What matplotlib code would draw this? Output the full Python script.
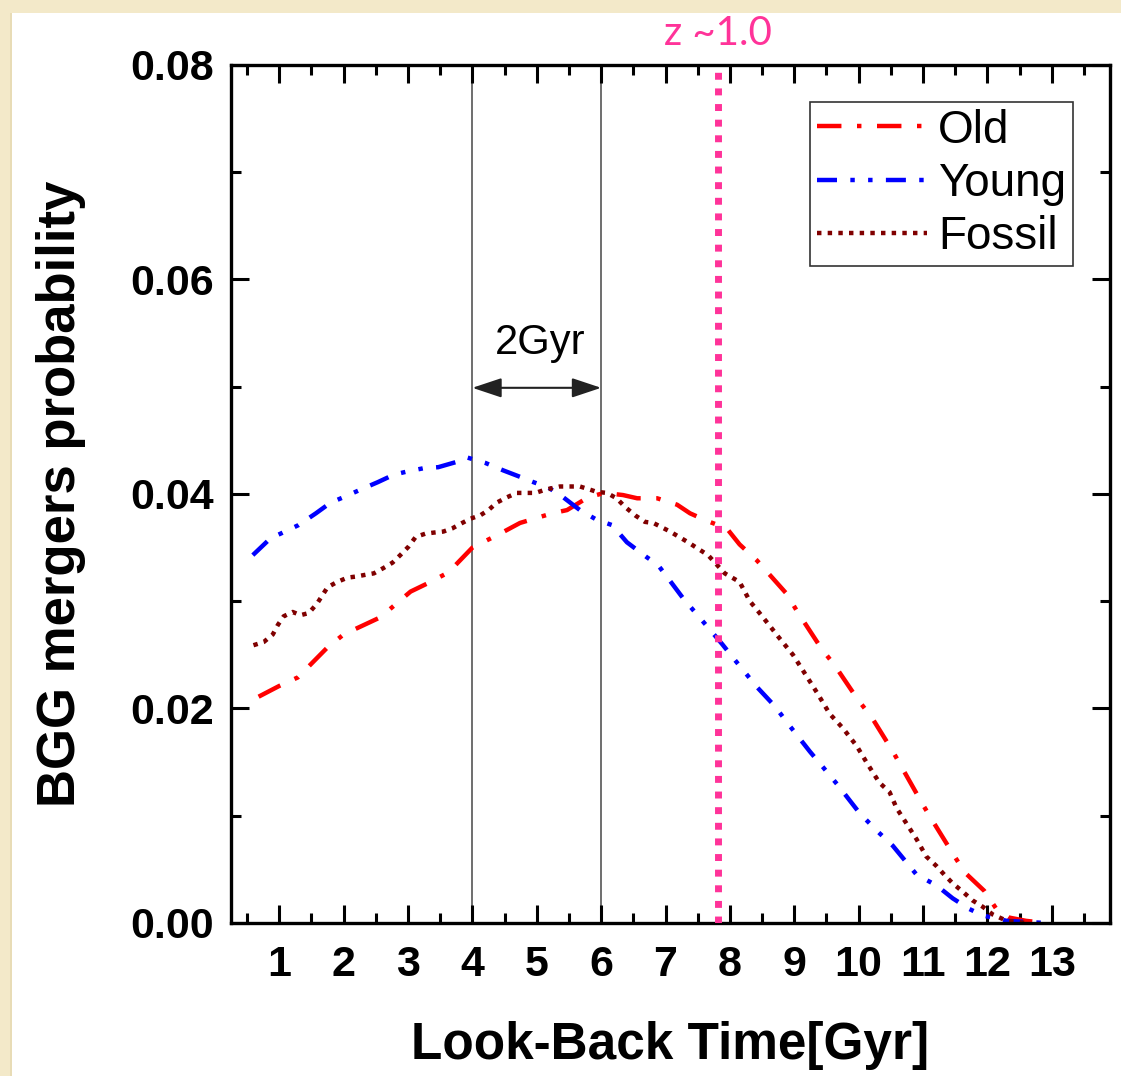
import matplotlib
matplotlib.use("Agg")
import matplotlib.pyplot as plt
from matplotlib.patches import Rectangle
from matplotlib.ticker import MultipleLocator

plt.rcParams['font.family'] = ['Liberation Sans', 'DejaVu Sans']

# ---- data ----
old_x = [0.68, 1.0, 1.29, 1.75, 2.0, 2.57, 3.04, 3.35, 3.63, 4.0, 4.43, 4.74, 5.24, 5.47,
         5.8, 6.05, 6.34, 6.56, 6.87, 7.18, 7.38, 7.64, 7.95, 8.15, 8.42, 8.88, 9.05, 9.42,
         9.63, 9.99, 10.2, 10.53, 10.68, 11.0, 11.15, 11.49, 11.65, 11.95, 12.14, 12.34,
         12.6, 12.9]
old_y = [0.0211, 0.0221, 0.0229, 0.0257, 0.0269, 0.0285, 0.0309, 0.0318, 0.0327, 0.0350,
         0.0363, 0.0373, 0.0382, 0.0385, 0.0397, 0.0401, 0.0399, 0.0396, 0.0396, 0.0390,
         0.0382, 0.0375, 0.0368, 0.0353, 0.0338, 0.0307, 0.0290, 0.0256, 0.0240, 0.0208,
         0.0192, 0.0160, 0.0144, 0.0110, 0.0095, 0.0062, 0.0047, 0.0030, 0.0013, 0.0005,
         0.0002, 0.0]

young_x = [0.59, 0.87, 1.02, 1.30, 1.57, 1.80, 2.0, 2.26, 2.53, 2.78, 2.99, 3.24, 3.47, 3.76,
           3.92, 4.20, 4.48, 4.74, 4.95, 5.18, 5.41, 5.67, 5.93, 6.17, 6.40, 6.71, 6.88,
           7.07, 7.27, 7.64, 7.88, 8.08, 8.42, 8.70, 8.90, 9.24, 9.45, 9.67, 10.02, 10.30,
           10.53, 10.90, 11.21, 11.46, 11.72, 11.93, 12.3, 12.9]
young_y = [0.0343, 0.0359, 0.0363, 0.0371, 0.0382, 0.0392, 0.0397, 0.0404, 0.0411, 0.0418,
           0.0421, 0.0424, 0.0425, 0.0430, 0.0434, 0.0429, 0.0422, 0.0416, 0.0411, 0.0406,
           0.0397, 0.0385, 0.0376, 0.0371, 0.0355, 0.0341, 0.0334, 0.0319, 0.0303, 0.0277,
           0.0260, 0.0245, 0.0220, 0.0202, 0.0186, 0.0160, 0.0145, 0.0129, 0.0102, 0.0085,
           0.0072, 0.0045, 0.0035, 0.0023, 0.0013, 0.0007, 0.0002, 0.0]

fossil_x = [0.60, 0.76, 0.90, 0.98, 1.07, 1.21, 1.33, 1.46, 1.59, 1.75, 1.90, 2.06, 2.19,
            2.37, 2.47, 2.62, 2.76, 2.88, 3.01, 3.12, 3.27, 3.40, 3.55, 3.69, 3.81, 3.97,
            4.12, 4.25, 4.38, 4.54, 4.69, 4.85, 4.98, 5.13, 5.36, 5.52, 5.67, 5.83, 5.93,
            6.09, 6.24, 6.37, 6.53, 6.68, 6.81, 7.07, 7.35, 7.53, 7.66, 7.92, 8.15, 8.31,
            8.42, 8.62, 8.75, 8.98, 9.16, 9.35, 9.55, 9.75, 9.97, 10.14, 10.32, 10.48, 10.59,
            10.74, 10.90, 11.05, 11.21, 11.33, 11.46, 11.62, 11.77, 11.93, 12.08, 12.3, 12.6]
fossil_y = [0.0259, 0.0262, 0.0269, 0.0278, 0.0286, 0.0290, 0.0287, 0.0289, 0.0298, 0.0313,
            0.0318, 0.0322, 0.0323, 0.0325, 0.0326, 0.0331, 0.0336, 0.0343, 0.0351, 0.0360,
            0.0363, 0.0364, 0.0365, 0.0368, 0.0372, 0.0377, 0.0380, 0.0385, 0.0392, 0.0397,
            0.0401, 0.0401, 0.0401, 0.0404, 0.0407, 0.0407, 0.0407, 0.0404, 0.0402, 0.0401,
            0.0396, 0.0388, 0.0380, 0.0374, 0.0373, 0.0365, 0.0355, 0.0348, 0.0343, 0.0326,
            0.0318, 0.0300, 0.0292, 0.0277, 0.0267, 0.0250, 0.0233, 0.0215, 0.0195, 0.0182,
            0.0165, 0.0148, 0.0131, 0.0122, 0.0107, 0.0093, 0.0078, 0.0062, 0.0053, 0.0045,
            0.0037, 0.0029, 0.0021, 0.0015, 0.0008, 0.0002, 0.0]

x_ticks = list(range(1, 14))
y_ticks = [0.00, 0.02, 0.04, 0.06, 0.08]
window = [4, 6]
z1_time = 7.81

fig = plt.figure(figsize=(11.21, 10.76), dpi=100)
fig.patch.set_facecolor('#f3e9c9')
# white card with a soft shadow
fig.patches.append(Rectangle((0.0085, -0.01), 1.0, 0.998, transform=fig.transFigure,
                             facecolor='#e8dcb6', edgecolor='none', zorder=-2))
fig.patches.append(Rectangle((0.0107, -0.01), 1.0, 0.998, transform=fig.transFigure,
                             facecolor='white', edgecolor='none', zorder=-1))

ax = fig.add_axes([0.206, 0.1422, 0.784, 0.7974])

ax.plot(old_x, old_y, color='#ff0000', lw=3.2, linestyle=(0, (5.5, 3.5, 1, 3.5)), label='Old')
ax.plot(young_x, young_y, color='#0000ff', lw=3.2, linestyle=(0, (4.5, 3, 1, 3, 1, 3)), label='Young')
ax.plot(fossil_x, fossil_y, color='#800000', lw=3.2, linestyle=(0, (1, 1.4)), label='Fossil')

for xv in window:
    ax.axvline(xv, color='#555555', lw=1.2, zorder=1)
ax.annotate('', xy=(window[0], 0.0499), xytext=(window[1], 0.0499),
            arrowprops=dict(arrowstyle='<|-|>,head_length=0.9,head_width=0.3',
                            color='#222222', lw=1.5, mutation_scale=20, shrinkA=0, shrinkB=0))
ax.text(5.05, 0.0541, '2Gyr', fontsize=30, ha='center', va='center')

ax.axvline(z1_time, color='#ff3399', lw=5, linestyle=(0, (1, 1.25)), zorder=3)
ax.text(z1_time, 0.0829, 'z ~1.0', color='#ff3399', fontsize=29, family='Lato',
        ha='center', va='center', clip_on=False)

ax.set_xlim(0.25, 13.9)
ax.set_ylim(0, 0.08)
ax.set_xticks(x_ticks)
ax.set_yticks(y_ticks)
ax.set_yticklabels(['%.2f' % v for v in y_ticks])
ax.xaxis.set_minor_locator(MultipleLocator(0.5))
ax.yaxis.set_minor_locator(MultipleLocator(0.01))
ax.tick_params(which='both', direction='in', top=True, right=True, width=2.2)
ax.tick_params(which='major', length=13, labelsize=31, pad=12)
ax.tick_params(which='minor', length=7)
ax.tick_params(axis='x', which='major', pad=16)
for lab in ax.get_xticklabels() + ax.get_yticklabels():
    lab.set_fontweight('bold')
for sp in ax.spines.values():
    sp.set_linewidth(2.4)

ax.set_xlabel('Look-Back Time[Gyr]', fontsize=37, fontweight='bold', labelpad=26)
ax.set_ylabel('BGG mergers probability', fontsize=38, fontweight='bold', labelpad=32)

leg = ax.legend(loc='upper right', fontsize=33, handlelength=2.4, handletextpad=0.25,
                borderpad=0.15, labelspacing=0.2, borderaxespad=0.8, fancybox=False,
                framealpha=1, edgecolor='#333333')
leg.get_frame().set_linewidth(1.2)

fig.savefig('out.png', dpi=100)
